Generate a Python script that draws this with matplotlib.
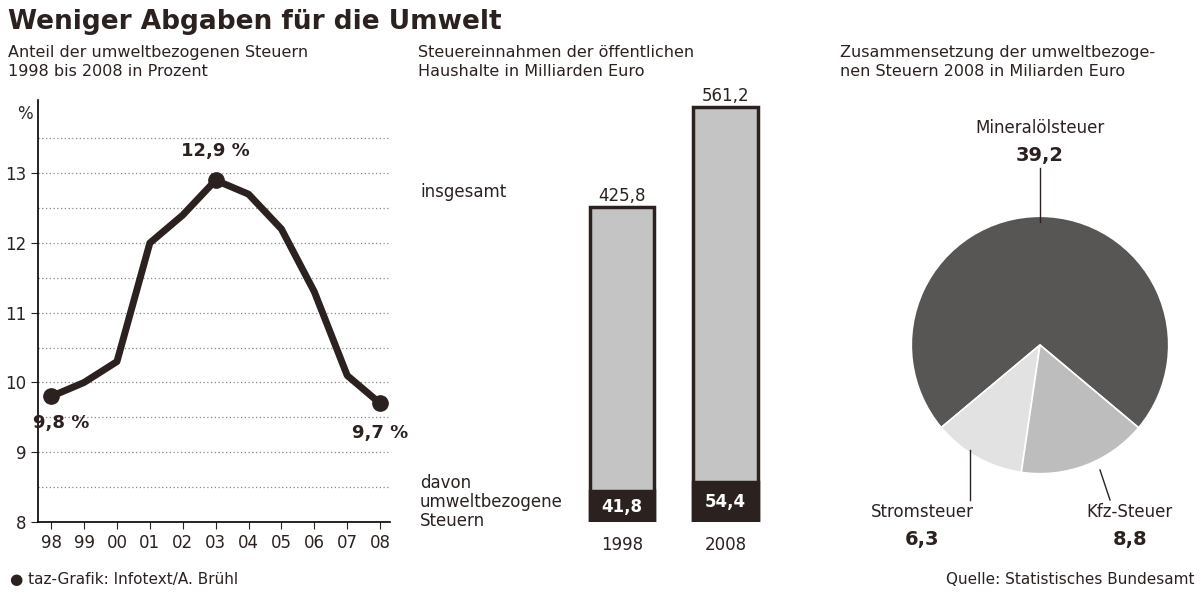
import matplotlib.pyplot as plt

years = ['98', '99', '00', '01', '02', '03', '04', '05', '06', '07', '08']
share = [9.8, 10.0, 10.3, 12.0, 12.4, 12.9, 12.7, 12.2, 11.3, 10.1, 9.7]

bar_years = ['1998', '2008']
total_rev = [425.8, 561.2]
env_rev = [41.8, 54.4]

pie_labels = ['Mineralölsteuer', 'Stromsteuer', 'Kfz-Steuer']
pie_values = [39.2, 6.3, 8.8]
pie_colors = ['#585555', '#e2e2e2', '#bdbdbd']

plt.rcParams['font.family'] = ['DejaVu Sans']
fig = plt.figure(figsize=(12, 6), dpi=100)
W, H = 1200, 600
def fx(x): return x / W
def fy(y): return 1 - y / H

dark = '#2b2220'
fig.text(fx(8), fy(22), 'Weniger Abgaben für die Umwelt', fontsize=19, weight='bold', color=dark, va='center')
fig.text(fx(8), fy(62), 'Anteil der umweltbezogenen Steuern\n1998 bis 2008 in Prozent', fontsize=11.5, color=dark, va='center', linespacing=1.3)
fig.text(fx(418), fy(62), 'Steuereinnahmen der öffentlichen\nHaushalte in Milliarden Euro', fontsize=11.5, color=dark, va='center', linespacing=1.3)
fig.text(fx(840), fy(62), 'Zusammensetzung der umweltbezoge-\nnen Steuern 2008 in Miliarden Euro', fontsize=11.5, color=dark, va='center', linespacing=1.3)
fig.text(fx(10), fy(580), '\u25CF taz-Grafik: Infotext/A. Brühl', fontsize=11, color=dark, va='center')
fig.text(fx(1195), fy(580), 'Quelle: Statistisches Bundesamt', fontsize=11, color=dark, va='center', ha='right')

# line chart
ax = fig.add_axes([fx(38), fy(522), fx(352), (522 - 100) / H])
x = list(range(len(years)))
ax.plot(x, share, color=dark, lw=5, solid_joinstyle='round')
for i in [0, 5, 10]:
    ax.plot(x[i], share[i], 'o', color=dark, ms=11)
ax.set_ylim(8, 14.05)
ax.set_xlim(-0.4, 10.3)
ax.set_yticks([8, 9, 10, 11, 12, 13])
ax.set_xticks(x)
ax.set_xticklabels(years)
ax.tick_params(labelsize=12, colors=dark, length=5)
for v in [8.5, 9, 9.5, 10, 10.5, 11, 11.5, 12, 12.5, 13, 13.5]:
    ax.axhline(v, color='#888', lw=0.9, ls=(0, (1, 2)), zorder=0)
for s in ['top', 'right']:
    ax.spines[s].set_visible(False)
ax.spines['left'].set_linewidth(1.2)
ax.spines['bottom'].set_linewidth(1.2)
ax.text(-0.55, 13.85, '%', fontsize=12, color=dark, ha='right', va='center')
ax.text(x[5], share[5] + 0.35, '12,9 %', fontsize=13, weight='bold', color=dark, ha='center')
ax.text(x[0] + 0.3, share[0] - 0.45, '9,8 %', fontsize=13, weight='bold', color=dark, ha='center')
ax.text(x[10], share[10] - 0.5, '9,7 %', fontsize=13, weight='bold', color=dark, ha='center')

# bar chart
bx = fig.add_axes([fx(560), fy(522), fx(230), (522 - 100) / H])
bpos = [0.04, 0.94]
bx.bar(bpos, total_rev, width=0.56, color='#c4c4c4', edgecolor=dark, lw=2.5)
bx.bar(bpos, env_rev, width=0.56, color=dark, edgecolor=dark, lw=2.5)
bx.set_xlim(-0.5, 1.5)
bx.set_ylim(0, 570)
for i, p in enumerate(bpos):
    bx.text(p, total_rev[i] + 8, f'{total_rev[i]:.1f}'.replace('.', ','), ha='center', fontsize=12, color=dark)
    bx.text(p, env_rev[i] / 2, f'{env_rev[i]:.1f}'.replace('.', ','), ha='center', va='center', fontsize=12, color='white', weight='bold')
bx.set_xticks(bpos)
bx.set_xticklabels(bar_years)
bx.tick_params(labelsize=12, colors=dark, length=0, pad=10)
for s in ['top', 'right', 'left', 'bottom']:
    bx.spines[s].set_visible(False)
bx.set_yticks([])
fig.text(fx(420), fy(192), 'insgesamt', fontsize=12, color=dark, va='center')
fig.text(fx(420), fy(502), 'davon\numweltbezogene\nSteuern', fontsize=12, color=dark, va='center', linespacing=1.1)

# pie chart
px = fig.add_axes([fx(910), fy(475), fx(260), 260 / H])
px.pie(pie_values, colors=pie_colors, startangle=-40, counterclock=True, radius=1.0,
       wedgeprops=dict(edgecolor='white', linewidth=1.2))
px.set_xlim(-1.01, 1.01)
px.set_ylim(-1.01, 1.01)
px.set_aspect('equal')
fig.text(fx(1040), fy(128), pie_labels[0], fontsize=12, color=dark, ha='center', va='center')
fig.text(fx(1040), fy(155), '39,2', fontsize=14, weight='bold', color=dark, ha='center', va='center')
fig.text(fx(922), fy(512), pie_labels[1], fontsize=12, color=dark, ha='center', va='center')
fig.text(fx(922), fy(540), '6,3', fontsize=14, weight='bold', color=dark, ha='center', va='center')
fig.text(fx(1130), fy(512), pie_labels[2], fontsize=12, color=dark, ha='center', va='center')
fig.text(fx(1130), fy(540), '8,8', fontsize=14, weight='bold', color=dark, ha='center', va='center')
for (x0, y0, x1, y1) in [(1040, 168, 1040, 222), (970, 450, 970, 500), (1100, 470, 1110, 500)]:
    fig.add_artist(plt.Line2D([fx(x0), fx(x1)], [fy(y0), fy(y1)], color=dark, lw=1))

fig.savefig('out.png', dpi=100, facecolor='white')
